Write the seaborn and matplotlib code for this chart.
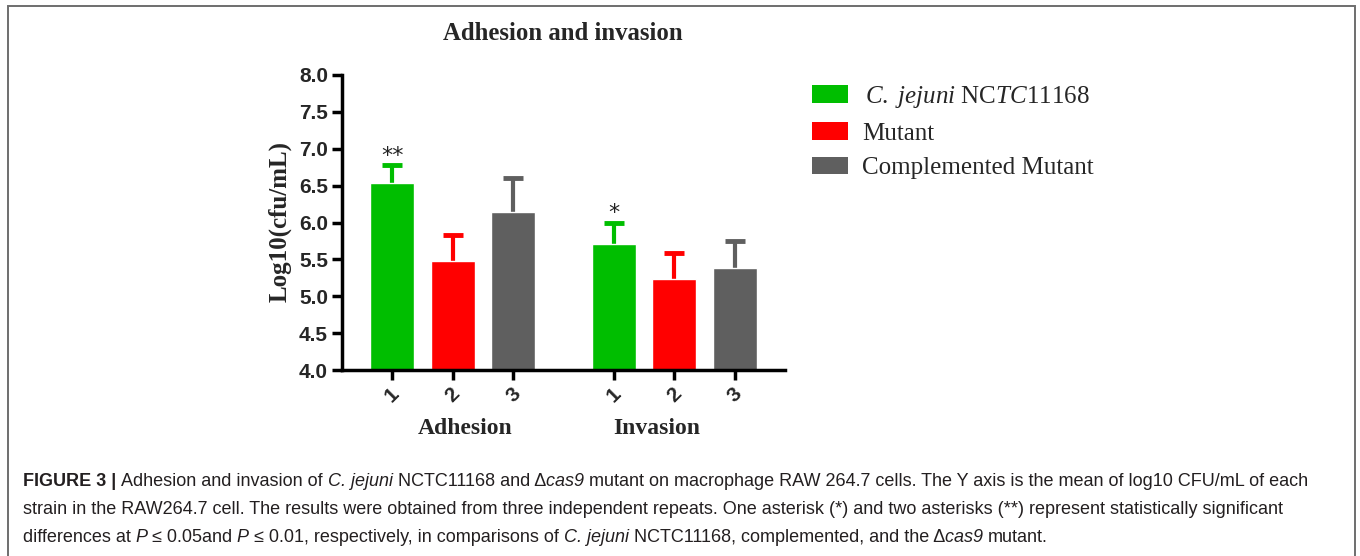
import matplotlib
matplotlib.use("Agg")
import matplotlib.pyplot as plt
from matplotlib.patches import Patch, Rectangle
import pandas as pd
import seaborn as sns

# values (log10 CFU/mL, mean and upper SD)
assays = ["Adhesion", "Invasion"]
strains = ["C. jejuni NCTC11168", "Mutant", "Complemented Mutant"]
strain_ticks = ["1", "2", "3"]
adhesion_mean = [6.54, 5.48, 6.14]
adhesion_err = [0.24, 0.35, 0.46]
invasion_mean = [5.71, 5.24, 5.38]
invasion_err = [0.29, 0.35, 0.37]
adhesion_sig = ["**", "", ""]
invasion_sig = ["*", "", ""]
colors = ["#00BE00", "#FF0000", "#5F5F5F"]
y_ticks = [4.0, 4.5, 5.0, 5.5, 6.0, 6.5, 7.0, 7.5, 8.0]

legend_labels = [r"$\,\mathit{C.\ jejuni}$ NC$\mathit{TC1116}$8", "Mutant", "Complemented Mutant"]

caption_lines = [
    [("FIGURE 3 | ", "bold"), ("Adhesion and invasion of ", "normal"), ("C. jejuni ", "italic"),
     ("NCTC11168 and \u0394", "normal"), ("cas9 ", "italic"),
     ("mutant on macrophage RAW 264.7 cells. The Y axis is the mean of log10 CFU/mL of each", "normal")],
    [("strain in the RAW264.7 cell. The results were obtained from three independent repeats. "
      "One asterisk (*) and two asterisks (**) represent statistically significant", "normal")],
    [("differences at ", "normal"), ("P ", "italic"), ("\u2264 0.05and ", "normal"), ("P ", "italic"),
     ("\u2264 0.01, respectively, in comparisons of ", "normal"), ("C. jejuni ", "italic"),
     ("NCTC11168, complemented, and the \u0394", "normal"), ("cas9 ", "italic"), ("mutant.", "normal")],
]

df = pd.DataFrame({
    "assay": [a for a in assays for _ in strains],
    "strain": strains * 2,
    "mean": adhesion_mean + invasion_mean,
    "err": adhesion_err + invasion_err,
    "sig": adhesion_sig + invasion_sig,
})

sns.set_style("ticks")
plt.rcParams["font.family"] = ["Liberation Sans", "DejaVu Sans"]
plt.rcParams["mathtext.fontset"] = "custom"
plt.rcParams["mathtext.rm"] = "Liberation Serif"
plt.rcParams["mathtext.it"] = "Liberation Serif:italic"

W, H = 1360, 556
fig = plt.figure(figsize=(W / 100, H / 100), dpi=100)
ax = fig.add_axes([342 / W, 1 - 370 / H, (785 - 342) / W, (370 - 75) / H])

sns.barplot(data=df, x="assay", y="mean", hue="strain", order=assays, hue_order=strains,
            palette=colors, saturation=1, width=0.82, gap=0.27, errorbar=None,
            legend=False, ax=ax, zorder=2)

tick_pos, tick_lab = [], []
for i, (strain, bars) in enumerate(zip(strains, ax.containers)):
    for j, bar in enumerate(bars):
        row = df[(df.assay == assays[j]) & (df.strain == strain)].iloc[0]
        xc = bar.get_x() + bar.get_width() / 2
        top = bar.get_height()
        # start the whisker inside the bar so its lower cap stays hidden
        ax.errorbar(xc, top - 0.05, yerr=[[0], [row["err"] + 0.05]], fmt="none",
                    ecolor=colors[i], elinewidth=3, capsize=7.5, capthick=3.5, zorder=1)
        if row["sig"]:
            ax.text(xc, top + row["err"] - 0.01, row["sig"], ha="center", va="bottom",
                    fontsize=16, color="#222222", family="DejaVu Sans")
        tick_pos.append(xc)
        tick_lab.append(strain_ticks[i])

order = sorted(range(len(tick_pos)), key=lambda k: tick_pos[k])
ax.set_xticks([tick_pos[k] for k in order])
ax.set_xticklabels([tick_lab[k] for k in order], rotation=45, ha="center",
                   fontsize=15, fontweight="bold")
ax.set_xlim(-0.5, 1.5)
ax.set_ylim(4, 8)
ax.set_yticks(y_ticks)
ax.set_yticklabels([f"{v:.1f}" for v in y_ticks], fontsize=15, fontweight="bold")
ax.set_xlabel("")
ax.set_ylabel("")
sns.despine(ax=ax)
for s in ["left", "bottom"]:
    ax.spines[s].set_linewidth(2.5)
    ax.spines[s].set_color("black")
ax.tick_params(axis="both", width=2.5, length=7, color="black", pad=3)

serif = ["Liberation Serif", "DejaVu Serif"]
fig.text(563 / W, 1 - 33 / H, "Adhesion and invasion", ha="center", va="center",
         family=serif, fontsize=17.8, fontweight="bold")
fig.text(280 / W, 1 - 221 / H, "Log10(cfu/mL)", rotation=90, ha="center", va="center",
         family=serif, fontsize=18, fontweight="bold")
fig.text(465 / W, 1 - 429 / H, "Adhesion", ha="center", va="center",
         family=serif, fontsize=17, fontweight="bold")
fig.text(657 / W, 1 - 429 / H, "Invasion", ha="center", va="center",
         family=serif, fontsize=17, fontweight="bold")

handles = [Patch(facecolor=c, edgecolor="none") for c in colors]
fig.legend(handles, legend_labels, loc="upper left", bbox_to_anchor=(812 / W, 1 - 84 / H),
           bbox_transform=fig.transFigure, frameon=False, borderpad=0, borderaxespad=0,
           handlelength=1.45, handleheight=0.72, handletextpad=0.55, labelspacing=0.48,
           prop={"family": serif, "size": 18})

# frame around the figure panel
fig.patches.append(Rectangle((8 / W, -0.05), (1355 - 8) / W, 1.05 - 6 / H,
                             transform=fig.transFigure, fill=False, edgecolor="#6E6E6E",
                             linewidth=1.4))

# caption, drawn run by run so italic/bold pieces line up
renderer = fig.canvas.get_renderer()


def run_width(text, style, size):
    kw = dict(fontsize=size, fontweight="bold" if style == "bold" else "normal",
              fontstyle="italic" if style == "italic" else "normal")
    a = fig.text(0, 0, "x" + text + "x", **kw)
    b = fig.text(0, 0, "xx", **kw)
    w = a.get_window_extent(renderer).width - b.get_window_extent(renderer).width
    a.remove()
    b.remove()
    return w


cap_size = 13.0
for line, yc in zip(caption_lines, [482, 510, 537]):
    x = 23.0
    for text, style in line:
        fig.text(x / W, 1 - yc / H, text, ha="left", va="center", fontsize=cap_size,
                 color="#231F20", fontweight="bold" if style == "bold" else "normal",
                 fontstyle="italic" if style == "italic" else "normal")
        x += run_width(text, style, cap_size)

fig.savefig("out.png", dpi=100)
